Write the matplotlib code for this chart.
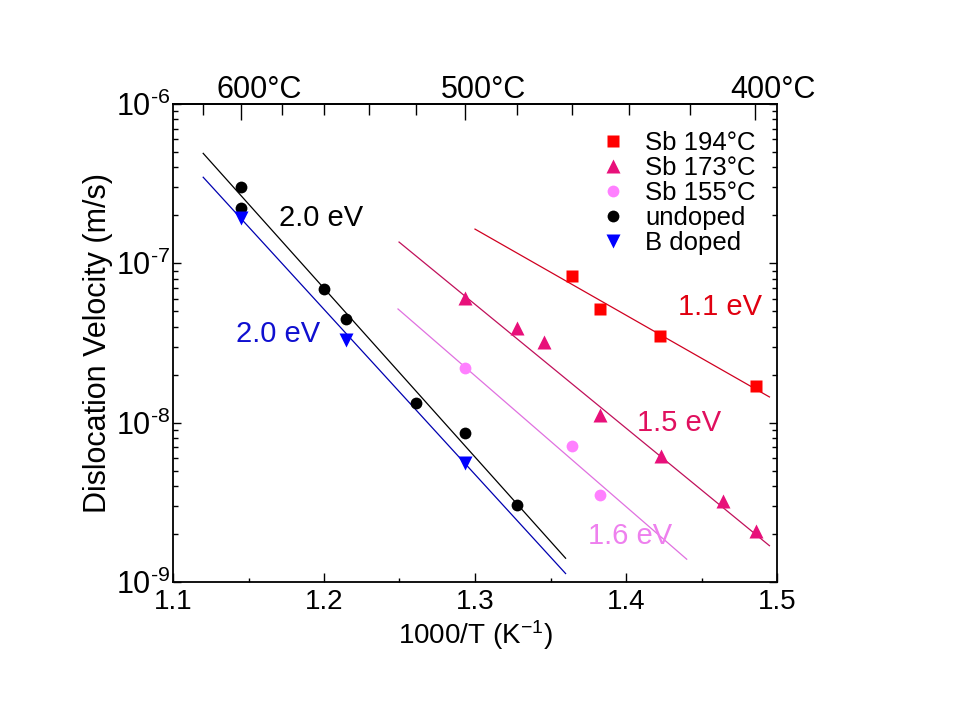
import numpy as np
import matplotlib
matplotlib.use("Agg")
import matplotlib.pyplot as plt
from matplotlib.ticker import FixedLocator, LogLocator, NullFormatter, MultipleLocator, FuncFormatter
import matplotlib.transforms as mtransforms

plt.rcParams['font.family'] = ['Liberation Sans', 'DejaVu Sans']
plt.rcParams['mathtext.fontset'] = 'custom'
plt.rcParams['mathtext.rm'] = 'Liberation Sans'
plt.rcParams['mathtext.it'] = 'Liberation Sans'
plt.rcParams['mathtext.default'] = 'regular'

# ---- data ----
sb194_x = [1.364, 1.3828, 1.4225, 1.486]
sb194_y = [8.3e-8, 5.17e-8, 3.5e-8, 1.7e-8]
sb173_x = [1.2935, 1.328, 1.346, 1.3828, 1.423, 1.4645, 1.486]
sb173_y = [6.05e-8, 3.92e-8, 3.2e-8, 1.12e-8, 6.2e-9, 3.23e-9, 2.09e-9]
sb155_x = [1.2935, 1.364, 1.3828]
sb155_y = [2.2e-8, 7.16e-9, 3.5e-9]
undoped_x = [1.1453, 1.1453, 1.2002, 1.2149, 1.2607, 1.2935, 1.3278]
undoped_y = [3.0e-7, 2.21e-7, 6.9e-8, 4.47e-8, 1.32e-8, 8.57e-9, 3.04e-9]
bdoped_x = [1.1453, 1.2149, 1.2935]
bdoped_y = [1.92e-7, 3.30e-8, 5.6e-9]

# fit lines (endpoints)
fit_undoped_x = [1.12, 1.36]
fit_undoped_y = [4.9e-7, 1.41e-9]
fit_bdoped_x = [1.12, 1.36]
fit_bdoped_y = [3.47e-7, 1.13e-9]
fit_sb155_x = [1.249, 1.4402]
fit_sb155_y = [5.17e-8, 1.39e-9]
fit_sb173_x = [1.2497, 1.495]
fit_sb173_y = [1.36e-7, 1.69e-9]
fit_sb194_x = [1.30, 1.495]
fit_sb194_y = [1.64e-7, 1.45e-8]

top_major_C = [600, 500, 400]
top_minor_C = [620, 580, 560, 540, 520, 480, 460, 440, 420]

labels = ['Sb 194°C', 'Sb 173°C', 'Sb 155°C', 'undoped', 'B doped']

c_red = '#FF0000'
c_pink = '#E8107A'
c_violet = '#FF80FF'
c_black = '#000000'
c_blue = '#0000FF'

fig = plt.figure(figsize=(9.6, 7.2), dpi=100)
ax = fig.add_axes([173/960, 1-582/720, (777-173)/960, (582-104)/720])

# lines
ax.plot(fit_undoped_x, fit_undoped_y, color='#000000', lw=0.9)
ax.plot(fit_bdoped_x, fit_bdoped_y, color='#0000B0', lw=0.9)
ax.plot(fit_sb155_x, fit_sb155_y, color='#E070E0', lw=0.9)
ax.plot(fit_sb173_x, fit_sb173_y, color='#C0105A', lw=0.9)
ax.plot(fit_sb194_x, fit_sb194_y, color='#D00020', lw=0.9)

ax.plot(sb194_x, sb194_y, 's', color=c_red, ms=8.5, mec='none', label=labels[0])
ax.plot(sb173_x, sb173_y, '^', color=c_pink, ms=9.5, mec='none', label=labels[1])
ax.plot(sb155_x, sb155_y, 'o', color=c_violet, ms=8.5, mec='none', label=labels[2])
ax.plot(undoped_x, undoped_y, 'o', color=c_black, ms=8.5, mec='none', label=labels[3])
ax.plot(bdoped_x, bdoped_y, 'v', color=c_blue, ms=9.5, mec='none', label=labels[4])

ax.set_yscale('log')
ax.set_xlim(1.1, 1.5)
ax.set_ylim(1e-9, 1e-6)

ax.xaxis.set_minor_locator(MultipleLocator(0.05))
ax.set_xticks([1.1, 1.2, 1.3, 1.4, 1.5])
ax.set_xticklabels(['1.1', '1.2', '1.3', '1.4', '1.5'])
ax.yaxis.set_major_locator(LogLocator(base=10, numticks=10))
ax.yaxis.set_minor_locator(LogLocator(base=10, subs=np.arange(2, 10), numticks=10))
ax.yaxis.set_minor_formatter(NullFormatter())

def log_fmt(v, pos):
    e = int(round(np.log10(v)))
    s = str(e).replace('-', '\u2010')
    return r'$10^{' + s + '}$'
ax.yaxis.set_major_formatter(FuncFormatter(log_fmt))

ax.tick_params(axis='x', which='major', direction='in', length=6.5, width=1, labelsize=20, pad=5, top=False)
ax.tick_params(axis='x', which='minor', direction='in', length=3, width=1, top=False)
ax.tick_params(axis='y', which='major', direction='in', length=6, width=1, labelsize=22, pad=2, right=True)
ax.tick_params(axis='y', which='minor', direction='in', length=3.5, width=1, right=True)
for s in ax.spines.values():
    s.set_linewidth(1.3)

ax.set_xlabel(r'1000/T (K$^{-1}$)', fontsize=20, labelpad=2)
ax.set_ylabel('Dislocation Velocity (m/s)', fontsize=22, labelpad=2)

# top temperature axis
def fwd(x):
    x = np.asarray(x, dtype=float)
    with np.errstate(divide='ignore'):
        return 1000.0 / x - 273.15
def inv(t):
    t = np.asarray(t, dtype=float)
    with np.errstate(divide='ignore'):
        return 1000.0 / (t + 273.15)
sec = ax.secondary_xaxis('top', functions=(fwd, inv))
sec.xaxis.set_major_locator(FixedLocator(top_major_C))
sec.xaxis.set_minor_locator(FixedLocator(top_minor_C))
sec.set_xticklabels([f'{t}°C' for t in top_major_C])
sec.tick_params(axis='x', which='major', direction='in', length=11.5, width=1, labelsize=22, pad=-0.5)
sec.tick_params(axis='x', which='minor', direction='in', length=8, width=1)
sec.spines['top'].set_linewidth(1.3)
offset = mtransforms.ScaledTranslation(18/100, 0, fig.dpi_scale_trans)
for lbl in sec.get_xticklabels():
    lbl.set_transform(lbl.get_transform() + offset)

# annotations
ax.text(1.1705, 1.92e-7, '2.0 eV', color='black', fontsize=21, ha='left', va='center')
ax.text(1.1417, 3.6e-8, '2.0 eV', color='#1010D0', fontsize=21, ha='left', va='center')
ax.text(1.4344, 5.32e-8, '1.1 eV', color='#E00010', fontsize=21, ha='left', va='center')
ax.text(1.4073, 9.94e-9, '1.5 eV', color='#E0105E', fontsize=21, ha='left', va='center')
ax.text(1.3748, 1.95e-9, '1.6 eV', color='#EE80EE', fontsize=21, ha='left', va='center')

leg = ax.legend(loc='upper left', bbox_to_anchor=(0.703, 0.9435), frameon=False, fontsize=18.5,
                handlelength=1.2, handletextpad=0.65, labelspacing=0.04, borderaxespad=0,
                borderpad=0, markerscale=1.0)

fig.savefig('out.png', dpi=100)
